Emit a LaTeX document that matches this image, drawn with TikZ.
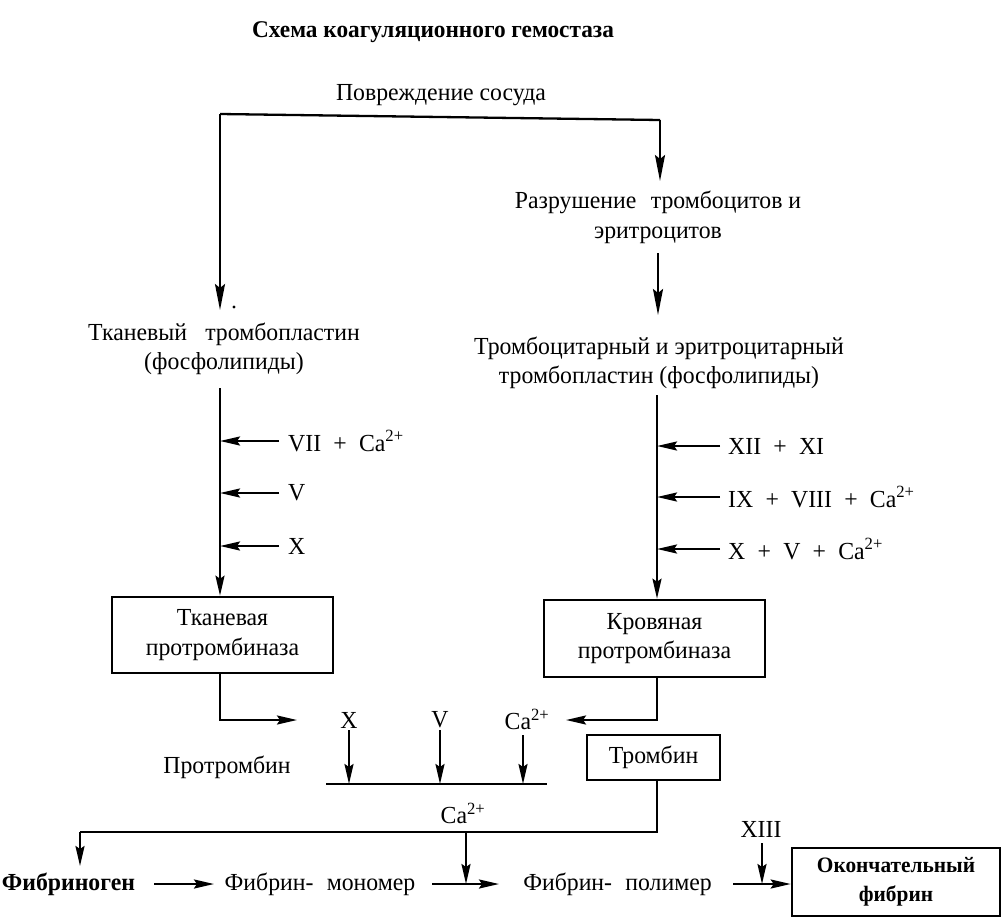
\documentclass[tikz,border=0pt]{standalone}
\usepackage{fontspec}
\setmainfont{Liberation Serif}[FakeStretch=0.97]
\usetikzlibrary{arrows.meta}
\newcommand{\pl}{\hspace{0.5em}+\hspace{0.5em}}
\begin{document}
\begin{tikzpicture}[x=1pt,y=-1pt,
  txt/.style={font=\fontsize{24.5}{29.5}\selectfont},
  lbl/.style={txt, inner sep=2pt, align=center},
  side/.style={lbl, anchor=west, inner xsep=9pt},
  bx/.style={draw, line width=2.6pt, align=center, txt, inner sep=2pt},
  ln/.style={line width=2.3pt},
  arr/.style={line width=2.3pt, -{Stealth[length=20pt,width=9pt,inset=3pt]}},
  bigarr/.style={line width=2.3pt, -{Stealth[length=26pt,width=10pt,inset=4pt]}},
]
\useasboundingbox (0,0) rectangle (1003,918);
% title
\node[lbl, font=\fontsize{24}{29}\selectfont\bfseries] (title) at (433,32) {Схема коагуляционного гемостаза};
\node[lbl] (dmg) at (441,95) {Повреждение сосуда};
\coordinate (hl) at (220,114);
\coordinate (hr) at (660,120);
\node[lbl] (razr) at (658,217.5) {Разрушение\hspace{0.35em} тромбоцитов и\\эритроцитов};
\node[lbl] (tkan) at (224,349) {Тканевый\hspace{0.5em} тромбопластин\\(фосфолипиды)};
\node[lbl] (trp) at (659,363) {Тромбоцитарный и эритроцитарный\\тромбопластин (фосфолипиды)};
\fill (234,307) circle (1.6pt);
\draw[ln] (hl) -- (hr);
\coordinate (t1) at (660,181);
\coordinate (t2) at (220,310);
\coordinate (t3) at (658,253);
\coordinate (t4) at (658,315);
\draw[bigarr] (hr) -- (t1);
\draw[bigarr] (hl) -- (t2);
\draw[bigarr] (t3) -- (t4);
% boxes
\node[bx, minimum width=221pt, minimum height=76pt] (box1) at (222.5,635) {Тканевая\\протромбиназа};
\node[bx, minimum width=221pt, minimum height=77pt] (box2) at (654.5,638.5) {Кровяная\\протромбиназа};
\coordinate (ltop) at (220,388);
\coordinate (rtop) at (657,395);
\draw[arr] (ltop) -- (ltop |- box1.north);
\draw[arr] (rtop) -- (rtop |- box2.north);
% left side inputs
\node[side] (l1) at (279,441) {VII\pl Ca\textsuperscript{2+}};
\node[side] (l2) at (279,493) {V};
\node[side] (l3) at (279,546) {X};
\foreach \n in {l1,l2,l3} \draw[arr] (\n.west) -- (\n.west -| ltop);
% right side inputs
\node[side, inner xsep=8pt] (r1) at (720,446) {XII\pl XI};
\node[side, inner xsep=8pt] (r2) at (720,497) {IX\pl VIII\pl Ca\textsuperscript{2+}};
\node[side, inner xsep=8pt] (r3) at (720,549) {X\pl V\pl Ca\textsuperscript{2+}};
\foreach \n in {r1,r2,r3} \draw[arr] (\n.west) -- (\n.west -| rtop);
% prothrombin activation
\coordinate (m1) at (297,720);
\coordinate (m2) at (566,720);
\draw[arr] (box1.south -| ltop) |- (m1);
\draw[arr] (box2.south -| rtop) |- (m2);
\node[lbl] (fx) at (349,720) {X};
\node[lbl] (fv) at (440,720) {V};
\node[lbl] (fca) at (527,719) {Ca\textsuperscript{2+}};
\coordinate (pl) at (326,784);
\coordinate (pr) at (547,784);
\draw[ln] (pl) -- (pr);
\draw[arr] (fx.south) -- (fx.south |- pl);
\draw[arr] (fv.south) -- (fv.south |- pl);
\coordinate (cat) at (523,735);
\draw[arr] (cat) -- (cat |- pl);
\node[lbl] (prot) at (227,767) {Протромбин};
\node[bx, minimum width=133pt, minimum height=45pt] (thr) at (653.5,757.5) {Тромбин};
% fibrin formation
\coordinate (tb) at (657,832);
\coordinate (fl) at (80,832);
\coordinate (fm) at (466,832);
\node[lbl, font=\fontsize{24.5}{29.5}\selectfont\bfseries] (fbg) at (68.5,884) {Фибриноген};
\node[lbl] (mono) at (320,884) {Фибрин-\hspace{0.3em} мономер};
\node[lbl] (poly) at (617.5,884) {Фибрин-\hspace{0.3em} полимер};
\node[bx, font=\fontsize{22}{29}\selectfont\bfseries, minimum width=208pt, minimum height=68pt] (fin) at (896,882) {Окончательный\\фибрин};
\node[lbl] (ca2) at (463,813) {Ca\textsuperscript{2+}};
\node[lbl] (x13) at (761,829) {XIII};
\coordinate (a1) at (154,884);
\coordinate (a2) at (214,884);
\coordinate (a3) at (432,884);
\coordinate (a4) at (499,884);
\coordinate (a5) at (733,884);
\coordinate (c1) at (80,866);
\coordinate (c2) at (466,884);
\coordinate (c3) at (762,884);
\coordinate (c0) at (762,843);
\draw[ln] (thr.south -| tb) -- (tb) -- (fl);
\draw[arr] (fl) -- (c1);
\draw[arr] (fm) -- (c2);
\draw[arr] (a1) -- (a2);
\draw[arr] (a3) -- (a4);
\draw[arr] (a5) -- (a5 -| fin.west);
\draw[arr] (c0) -- (c3);
\end{tikzpicture}
\end{document}
